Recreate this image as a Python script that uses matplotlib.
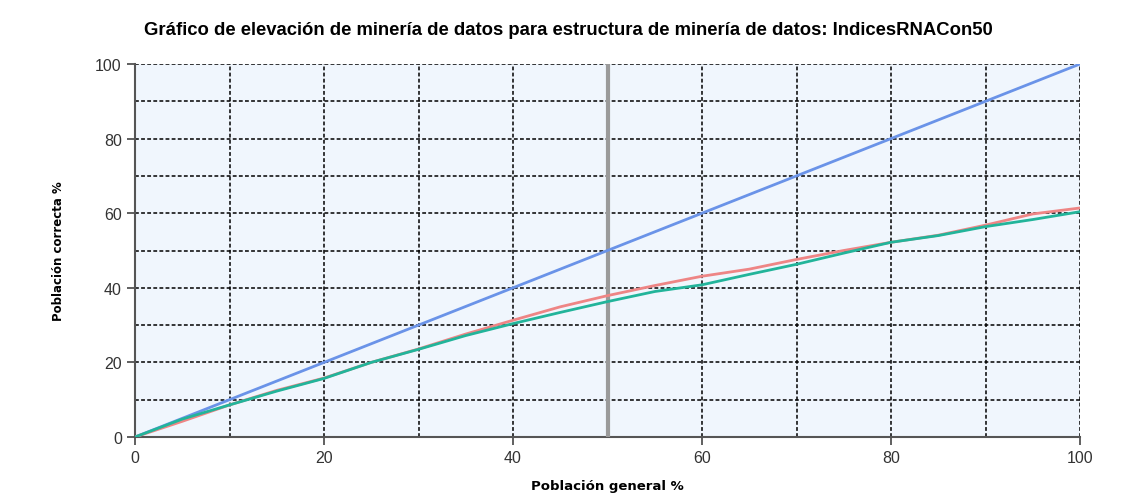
import matplotlib
matplotlib.use("Agg")
import matplotlib.pyplot as plt
from matplotlib.ticker import MultipleLocator

# lift chart data (percent of population vs percent correct)
pop_x = [0, 5, 10, 15, 20, 25, 30, 35, 40, 45, 50, 55, 60, 65, 70, 75, 80, 85, 90, 95, 100]
ideal = [0, 5, 10, 15, 20, 25, 30, 35, 40, 45, 50, 55, 60, 65, 70, 75, 80, 85, 90, 95, 100]
model_red = [0, 4.2, 8.6, 12.5, 15.8, 20.0, 23.6, 27.6, 31.3, 34.9, 37.9, 40.6, 43.1,
             45.0, 47.6, 50.0, 52.2, 54.1, 56.8, 59.8, 61.4]
model_green = [0, 4.8, 8.6, 12.3, 15.7, 20.0, 23.5, 27.2, 30.4, 33.4, 36.3, 39.0, 40.8,
               43.6, 46.3, 49.3, 52.2, 54.0, 56.4, 58.3, 60.4]
cut_x = 50

title = "Gráfico de elevación de minería de datos para estructura de minería de datos: IndicesRNACon50"

fig = plt.figure(figsize=(11.28, 5.02), dpi=100)
ax = fig.add_axes([135 / 1128, 1 - 438 / 502, 945 / 1128, 373 / 502])
ax.set_facecolor("#F0F6FD")

ax.plot(pop_x, ideal, color="#6A93E8", lw=2, zorder=4)
ax.plot(pop_x, model_red, color="#EE8585", lw=2, zorder=4)
ax.plot(pop_x, model_green, color="#22B49A", lw=2, zorder=5)
ax.axvline(cut_x, color="#9A9A9A", lw=3, zorder=3)

ax.set_xlim(0, 100)
ax.set_ylim(0, 100)
ax.xaxis.set_major_locator(MultipleLocator(20))
ax.yaxis.set_major_locator(MultipleLocator(20))
ax.xaxis.set_minor_locator(MultipleLocator(10))
ax.yaxis.set_minor_locator(MultipleLocator(10))
ax.grid(which="both", color="black", linestyle=(0, (2.5, 1.5)), lw=1.1, zorder=1)
ax.set_axisbelow(True)
ax.tick_params(which="minor", length=0)
ax.tick_params(which="major", length=6, width=1.2, color="#444444",
               labelcolor="#333333")
for lab in ax.get_xticklabels() + ax.get_yticklabels():
    lab.set_family("Liberation Sans")
    lab.set_fontsize(11.5)

for s in ["top", "right"]:
    ax.spines[s].set_visible(False)
for s in ["left", "bottom"]:
    ax.spines[s].set_color("#555555")
    ax.spines[s].set_linewidth(1.5)

ax.set_xlabel("Población general %", fontsize=9.5, fontweight="bold", labelpad=10)
ax.set_ylabel("Población correcta %", fontsize=8.5, fontweight="bold", labelpad=22)
fig.text(0.504, 0.94, title, ha="center", va="center", fontsize=13.3,
         fontweight="bold", family="Liberation Sans")

fig.savefig("out.png", dpi=100)
